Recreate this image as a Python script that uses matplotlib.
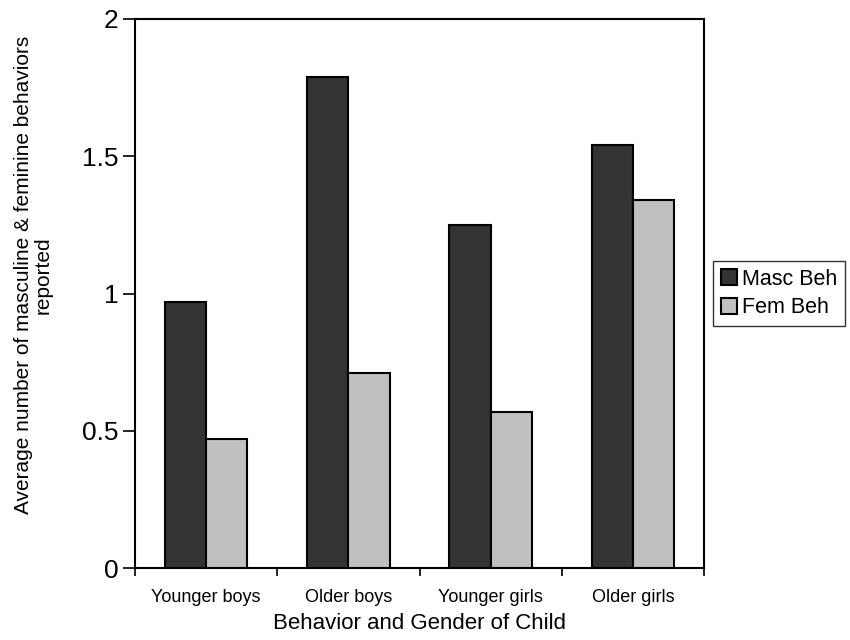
import numpy as np
import matplotlib.pyplot as plt
from matplotlib.ticker import FixedLocator, NullFormatter

plt.rcParams['font.family'] = ['Liberation Sans', 'DejaVu Sans']

# ----------------------------------------------------------
# Data
# ----------------------------------------------------------

categories = ["Younger boys", "Older boys", "Younger girls", "Older girls"]
masc_beh = [0.97, 1.79, 1.25, 1.54]
fem_beh = [0.47, 0.71, 0.57, 1.34]
y_ticks = [0, 0.5, 1, 1.5, 2]
y_tick_labels = ["0", "0.5", "1", "1.5", "2"]

# ----------------------------------------------------------
# Figure
# ----------------------------------------------------------

fig = plt.figure(figsize=(8.5, 6.4), dpi=100)
ax = fig.add_axes([135 / 850, 1 - 568 / 640, (704 - 135) / 850, (568 - 19) / 640])

x = np.arange(len(categories))
width = 0.29

ax.bar(x - width / 2, masc_beh, width, color="#333333", edgecolor="black",
       linewidth=1.5, label="Masc Beh", zorder=3)
ax.bar(x + width / 2, fem_beh, width, color="#c0c0c0", edgecolor="black",
       linewidth=1.5, label="Fem Beh", zorder=3)

ax.set_xlim(-0.5, len(categories) - 0.5)
ax.set_ylim(0, 2)

ax.set_yticks(y_ticks)
ax.set_yticklabels(y_tick_labels, fontsize=19)
ax.tick_params(axis="y", direction="out", length=9, width=1.2, pad=3)

# category labels centred, ticks at the boundaries
ax.set_xticks(x)
ax.set_xticklabels(categories, fontsize=13)
ax.tick_params(axis="x", which="major", length=0, pad=15)
ax.xaxis.set_minor_locator(FixedLocator(np.arange(-0.5, len(categories), 1)))
ax.xaxis.set_minor_formatter(NullFormatter())
ax.tick_params(axis="x", which="minor", direction="out", length=6, width=1.2)

for s in ax.spines.values():
    s.set_linewidth(1.5)

ax.set_xlabel("Behavior and Gender of Child", fontsize=16, labelpad=5)
ax.set_ylabel("Average number of masculine & feminine behaviors\nreported",
              fontsize=15, linespacing=1.0)
ax.yaxis.set_label_coords(-0.145, 0.534)

leg = ax.legend(loc="center left", bbox_to_anchor=(1.005, 0.50), fontsize=15.5,
                frameon=True, fancybox=False, edgecolor="black",
                handlelength=0.75, handleheight=0.75, handletextpad=0.25,
                borderpad=0.35, labelspacing=0.35, borderaxespad=0.3)
leg.get_frame().set_linewidth(1.0)

fig.savefig("out.png", dpi=100)
